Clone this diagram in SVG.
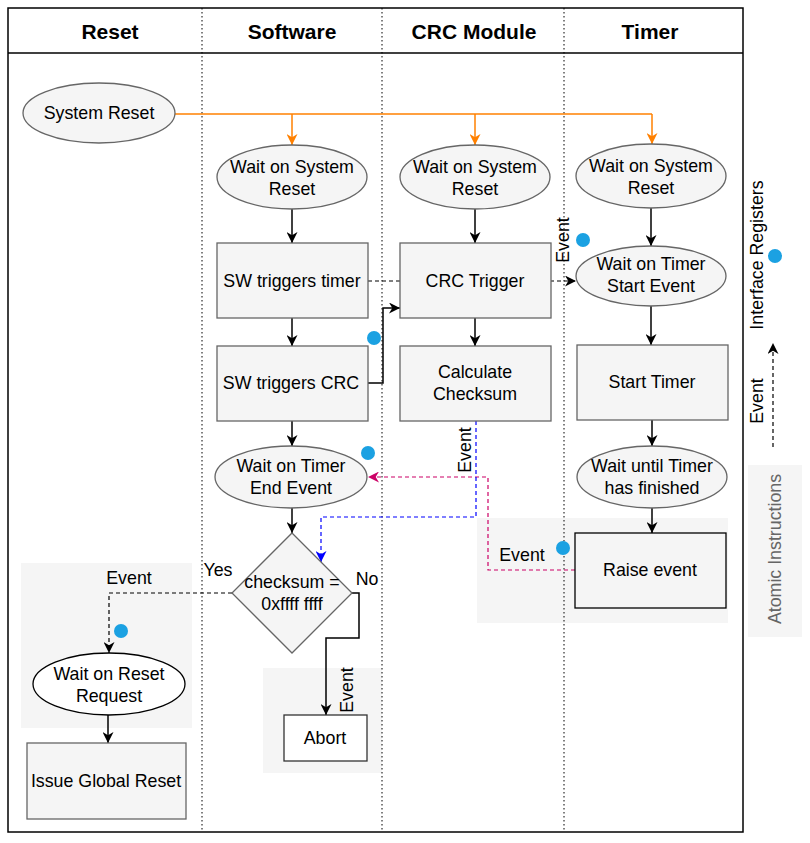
<svg xmlns="http://www.w3.org/2000/svg" width="810" height="843" viewBox="0 0 810 843">
<style>
text{font-family:"Liberation Sans",Arial,Helvetica,sans-serif;font-size:17.8px;fill:#000;text-anchor:middle}
.hdr{font-size:21px;font-weight:bold}
.n{fill:#f5f5f5;stroke:#666;stroke-width:1.3}
.w{fill:#fff;stroke:#000;stroke-width:1.3}
.rb{fill:#f5f5f5;stroke:#000;stroke-width:1.3}
.reg{fill:#f5f5f5;stroke:none}
.lane{stroke:#000;stroke-width:1;stroke-dasharray:1.5 2.5;fill:none}
.c{fill:none;stroke:#000;stroke-width:1.5}
.d{fill:none;stroke:#000;stroke-width:1.2;stroke-dasharray:4 3}
.o{fill:none;stroke:#FF8000;stroke-width:1.5}
.b{fill:none;stroke:#0000FF;stroke-width:1.2;stroke-dasharray:4 3}
.p{fill:none;stroke:#CC0066;stroke-width:1.2;stroke-dasharray:4 3}
.dot{fill:#1BA1E2}
</style>
<defs>
<marker id="ak" viewBox="0 0 10 10" refX="10" refY="5" markerWidth="11" markerHeight="11" markerUnits="userSpaceOnUse" orient="auto"><path d="M0,0 L10,5 L0,10 L3,5 z" fill="#000"/></marker>
<marker id="ao" viewBox="0 0 10 10" refX="10" refY="5" markerWidth="11" markerHeight="11" markerUnits="userSpaceOnUse" orient="auto"><path d="M0,0 L10,5 L0,10 L3,5 z" fill="#FF8000"/></marker>
<marker id="ab" viewBox="0 0 10 10" refX="10" refY="5" markerWidth="11" markerHeight="11" markerUnits="userSpaceOnUse" orient="auto"><path d="M0,0 L10,5 L0,10 L3,5 z" fill="#0000FF"/></marker>
<marker id="ap" viewBox="0 0 10 10" refX="10" refY="5" markerWidth="11" markerHeight="11" markerUnits="userSpaceOnUse" orient="auto"><path d="M0,0 L10,5 L0,10 L3,5 z" fill="#CC0066"/></marker>
</defs>
<rect x="0" y="0" width="810" height="843" fill="#fff"/>
<g id="regions">
<rect class="reg" x="21" y="563" width="171" height="165"/>
<rect class="reg" x="263" y="668" width="119" height="105"/>
<rect class="reg" x="477" y="518" width="251" height="105"/>
<rect class="reg" x="748" y="465" width="54" height="172"/>
</g>
<g id="pool">
<rect x="8" y="8" width="735" height="824" fill="none" stroke="#000" stroke-width="1.5"/>
<line x1="8" y1="53" x2="743" y2="53" stroke="#000" stroke-width="1.5"/>
<line class="lane" x1="202" y1="8" x2="202" y2="832"/>
<line class="lane" x1="382" y1="8" x2="382" y2="832"/>
<line class="lane" x1="564" y1="8" x2="564" y2="832"/>
<text class="hdr" x="110" y="39">Reset</text>
<text class="hdr" x="292" y="39">Software</text>
<text class="hdr" x="474" y="39">CRC Module</text>
<text class="hdr" x="650" y="39">Timer</text>
</g>
<g id="connectors">
<path class="o" d="M175,114 H652"/>
<path class="o" d="M292,114 V145" marker-end="url(#ao)"/>
<path class="o" d="M475,114 V145" marker-end="url(#ao)"/>
<path class="o" d="M652,114 V144" marker-end="url(#ao)"/>
<path class="c" d="M292,209 V243" marker-end="url(#ak)"/>
<path class="c" d="M475,209 V243" marker-end="url(#ak)"/>
<path class="c" d="M651,208 V246" marker-end="url(#ak)"/>
<path class="c" d="M292,318 V346" marker-end="url(#ak)"/>
<path class="c" d="M475,318 V346" marker-end="url(#ak)"/>
<path class="c" d="M368,383 H383 V308 H400" marker-end="url(#ak)"/>
<path class="d" d="M368,281 H576" marker-end="url(#ak)"/>
<path class="c" d="M651,306 V345" marker-end="url(#ak)"/>
<path class="c" d="M652,420 V446" marker-end="url(#ak)"/>
<path class="c" d="M652,508 V533" marker-end="url(#ak)"/>
<path class="c" d="M292,421 V446" marker-end="url(#ak)"/>
<path class="c" d="M292,508 V533" marker-end="url(#ak)"/>
<path class="p" d="M575,570 H488 V477 H368" marker-end="url(#ap)"/>
<path class="b" d="M476,421 V517 H321 V562" marker-end="url(#ab)"/>
<path class="d" d="M232,593 H109 V653" marker-end="url(#ak)"/>
<path class="c" d="M352,593 H359 V638 H326 V715" marker-end="url(#ak)"/>
<path class="c" d="M108,715 V743" marker-end="url(#ak)"/>
<path class="d" d="M773,447 V343" marker-end="url(#ak)"/>
</g>
<g id="labels">
<text transform="rotate(-90 569 240)" x="569" y="240">Event</text>
<text transform="rotate(-90 471 450)" x="471" y="450">Event</text>
<text transform="rotate(-90 353 690)" x="353" y="690">Event</text>
<text x="522" y="561">Event</text>
<text x="129" y="584">Event</text>
<text x="218" y="576">Yes</text>
<text x="367" y="585">No</text>
<circle class="dot" cx="583" cy="240" r="7"/>
<circle class="dot" cx="374" cy="338" r="7"/>
<circle class="dot" cx="368" cy="453" r="7"/>
<circle class="dot" cx="563" cy="548" r="7"/>
<circle class="dot" cx="121" cy="631" r="7"/>
</g>
<g id="node-system-reset"><ellipse class="n" cx="99" cy="113" rx="76" ry="30"/><text x="99" y="119">System Reset</text></g>
<g id="node-sw-wait-reset"><ellipse class="n" cx="292" cy="177" rx="75" ry="32"/><text x="292" y="173">Wait on System</text><text x="292" y="195">Reset</text></g>
<g id="node-crc-wait-reset"><ellipse class="n" cx="475" cy="177" rx="75" ry="32"/><text x="475" y="173">Wait on System</text><text x="475" y="195">Reset</text></g>
<g id="node-tmr-wait-reset"><ellipse class="n" cx="651" cy="176" rx="75" ry="32"/><text x="651" y="172">Wait on System</text><text x="651" y="194">Reset</text></g>
<g id="node-sw-triggers-timer"><rect class="n" x="217" y="243" width="151" height="75"/><text x="292" y="287">SW triggers timer</text></g>
<g id="node-crc-trigger"><rect class="n" x="400" y="243" width="151" height="75"/><text x="475" y="287">CRC Trigger</text></g>
<g id="node-sw-triggers-crc"><rect class="n" x="217" y="346" width="151" height="75"/><text x="291" y="389">SW triggers CRC</text></g>
<g id="node-calc-checksum"><rect class="n" x="400" y="346" width="151" height="75"/><text x="475" y="378">Calculate</text><text x="475" y="400">Checksum</text></g>
<g id="node-wait-timer-start"><ellipse class="n" cx="651" cy="276" rx="75" ry="30"/><text x="651" y="270">Wait on Timer</text><text x="651" y="292">Start Event</text></g>
<g id="node-start-timer"><rect class="n" x="577" y="345" width="151" height="75"/><text x="652" y="388">Start Timer</text></g>
<g id="node-wait-until"><ellipse class="n" cx="652" cy="477" rx="75" ry="31"/><text x="652" y="472">Wait until Timer</text><text x="652" y="494">has finished</text></g>
<g id="node-raise-event"><rect class="rb" x="575" y="533" width="151" height="75"/><text x="650" y="576">Raise event</text></g>
<g id="node-wait-timer-end"><ellipse class="n" cx="291" cy="477" rx="76" ry="31"/><text x="291" y="472">Wait on Timer</text><text x="291" y="494">End Event</text></g>
<g id="node-checksum"><path class="n" d="M292,533 L352,593 L292,653 L232,593 Z"/><text x="292" y="588">checksum =</text><text x="292" y="610">0xffff ffff</text></g>
<g id="node-wait-reset-request"><ellipse class="w" cx="109" cy="684" rx="76" ry="31"/><text x="109" y="680">Wait on Reset</text><text x="109" y="702">Request</text></g>
<g id="node-issue-global-reset"><rect class="n" x="27" y="743" width="159" height="76"/><text x="106" y="787">Issue Global Reset</text></g>
<g id="node-abort"><rect class="w" x="284" y="715" width="83" height="46" style="stroke:#333"/><text x="325" y="744">Abort</text></g>
<g id="legend">
<text transform="rotate(-90 763 255)" x="763" y="255">Interface Registers</text>
<circle class="dot" cx="775" cy="256" r="7"/>
<text transform="rotate(-90 763 401)" x="763" y="401">Event</text>
<text transform="rotate(-90 781 549)" x="781" y="549" style="fill:#666">Atomic Instructions</text>
</g>
</svg>
